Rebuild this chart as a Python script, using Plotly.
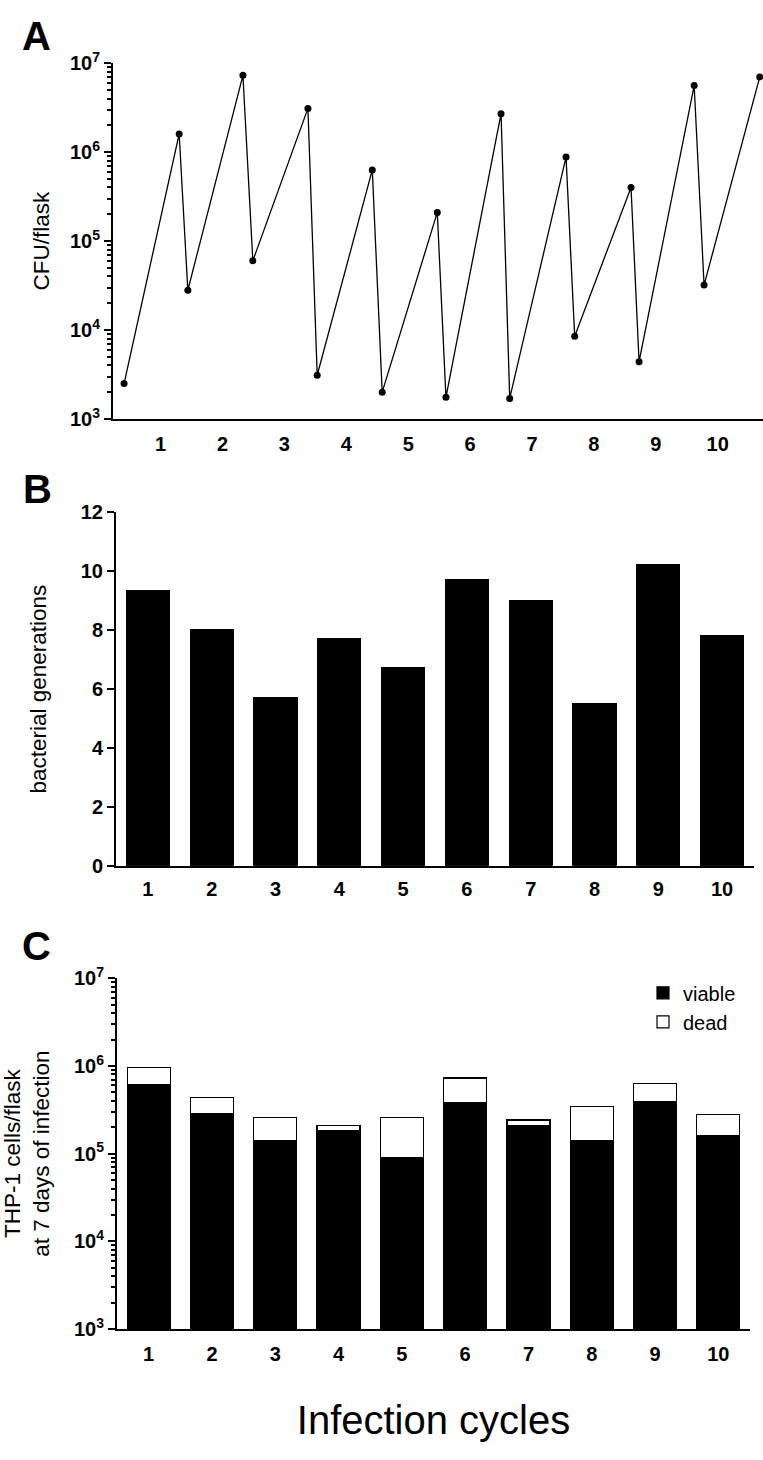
import plotly.graph_objects as go

# ---------------- data ----------------
cycles = [1, 2, 3, 4, 5, 6, 7, 8, 9, 10]
cycle_labels = ["1", "2", "3", "4", "5", "6", "7", "8", "9", "10"]

# Panel A: CFU/flask at start and end of each infection cycle (x in cycle units)
cfu_x = [0.41, 1.30, 1.44, 2.33, 2.49, 3.38, 3.53, 4.42, 4.58, 5.47,
         5.61, 6.50, 6.64, 7.55, 7.69, 8.60, 8.73, 9.62, 9.78, 10.68]
cfu = [2.5e3, 1.6e6, 2.8e4, 7.3e6, 6.0e4, 3.1e6, 3.1e3, 6.3e5, 2.0e3, 2.1e5,
       1.75e3, 2.7e6, 1.7e3, 8.8e5, 8.5e3, 4.0e5, 4.4e3, 5.6e6, 3.2e4, 7.0e6]

# Panel B: bacterial generations per cycle
generations = [9.33, 8.02, 5.72, 7.72, 6.72, 9.73, 9.02, 5.52, 10.22, 7.82]

# Panel C: THP-1 cells/flask at 7 days of infection
viable = [6.05e5, 2.83e5, 1.42e5, 1.83e5, 9.1e4, 3.85e5, 2.11e5, 1.42e5, 3.92e5, 1.6e5]
dead = [3.55e5, 1.51e5, 1.19e5, 2.8e4, 1.7e5, 3.43e5, 3.1e4, 2.05e5, 2.42e5, 1.21e5]

log_tickvals = [1e3, 1e4, 1e5, 1e6, 1e7]
log_ticktext = ["10<sup>3</sup>", "10<sup>4</sup>", "10<sup>5</sup>", "10<sup>6</sup>", "10<sup>7</sup>"]
lin_tickvals = [0, 2, 4, 6, 8, 10, 12]

# ---------------- figure ----------------
W, H = 763, 1460
TICKFONT = dict(family="Liberation Sans Narrow, Arial Narrow, Liberation Sans, Arial, sans-serif",
                size=20, color="black", weight="bold")
TITLEFONT = dict(family="Liberation Sans, Arial, sans-serif", size=22.5, color="black")

fig = go.Figure()

fig.add_trace(go.Scatter(
    x=cfu_x, y=cfu, mode="lines+markers", xaxis="x", yaxis="y",
    line=dict(color="black", width=1.3),
    marker=dict(color="black", size=7), cliponaxis=False, showlegend=False))

fig.add_trace(go.Bar(
    x=cycles, y=generations, xaxis="x2", yaxis="y2",
    marker=dict(color="black", line=dict(color="black", width=1)),
    showlegend=False))

fig.add_trace(go.Bar(
    x=cycles, y=viable, name="viable", xaxis="x3", yaxis="y3",
    marker=dict(color="black", line=dict(color="black", width=1.2))))
fig.add_trace(go.Bar(
    x=cycles, y=dead, name="dead", xaxis="x3", yaxis="y3",
    marker=dict(color="white", line=dict(color="black", width=1.2))))


def px_y(p):
    return 1 - p / H


def px_x(p):
    return p / W


axis_common = dict(showgrid=False, zeroline=False, showline=True, linecolor="black",
                   linewidth=2, tickfont=TICKFONT, color="black")

fig.update_layout(
    width=W, height=H,
    margin=dict(l=0, r=0, t=0, b=0),
    paper_bgcolor="white", plot_bgcolor="white",
    barmode="stack", bargap=0.32,
    font=dict(family="Liberation Sans, Arial, sans-serif", color="black"),
    # Panel A
    xaxis=dict(axis_common, domain=[px_x(113), 1.0], range=[0.231, 10.732],
               tickmode="array", tickvals=cycles, ticktext=cycle_labels,
               ticks="", ticklabelstandoff=6, anchor="y"),
    yaxis=dict(axis_common, domain=[px_y(412), px_y(50)], type="log", range=[3, 7],
               tickmode="array", tickvals=log_tickvals, ticktext=log_ticktext,
               ticks="outside", ticklen=7, tickwidth=2,
               minor=dict(ticks="outside", ticklen=4, tickwidth=1.5, dtick="D1", showgrid=False),
               title=dict(text="CFU/flask", font=TITLEFONT, standoff=14), anchor="x"),
    # Panel B
    xaxis2=dict(axis_common, domain=[px_x(116), px_x(754)], range=[0.5, 10.5],
                tickmode="array", tickvals=cycles, ticktext=cycle_labels,
                ticks="", ticklabelstandoff=4, anchor="y2"),
    yaxis2=dict(axis_common, domain=[px_y(866.7), px_y(507)], range=[0, 12],
                tickmode="array", tickvals=lin_tickvals,
                ticks="outside", ticklen=7, tickwidth=2,
                title=dict(text="bacterial generations", font=TITLEFONT, standoff=28), anchor="x2"),
    # Panel C
    xaxis3=dict(axis_common, domain=[px_x(117), px_x(750)], range=[0.5, 10.5],
                tickmode="array", tickvals=cycles, ticktext=cycle_labels,
                ticks="", ticklabelstandoff=6, anchor="y3",
                title=dict(text="Infection cycles",
                           font=dict(family="Liberation Sans, Arial, sans-serif", size=40, color="black"),
                           standoff=42)),
    yaxis3=dict(axis_common, domain=[px_y(1338), px_y(981)], type="log", range=[3, 7],
                tickmode="array", tickvals=log_tickvals, ticktext=log_ticktext,
                ticks="outside", ticklen=7, tickwidth=2,
                minor=dict(ticks="outside", ticklen=4, tickwidth=1.5, dtick="D1", showgrid=False),
                title=dict(text="THP-1 cells/flask<br>at 7 days of infection", font=TITLEFONT, standoff=22),
                anchor="x3"),
    legend=dict(x=px_x(643), y=px_y(976), xanchor="left", yanchor="top",
                traceorder="normal",
                font=dict(family="Liberation Sans, Arial, sans-serif", size=20, color="black"),
                bgcolor="rgba(0,0,0,0)", itemwidth=30, tracegroupgap=4),
)

for letter, cx, cy in [("A", 36, 22), ("B", 37, 483), ("C", 36, 948)]:
    fig.add_annotation(text=f"<b>{letter}</b>", xref="paper", yref="paper",
                       x=px_x(cx), y=px_y(cy), xanchor="center", yanchor="middle",
                       showarrow=False,
                       font=dict(family="Liberation Sans, Arial, sans-serif", size=40, color="black"))

fig.write_html("out.html",
               config={"displayModeBar": False},
               post_script="document.body.style.margin='0';document.body.style.overflow='hidden';")
